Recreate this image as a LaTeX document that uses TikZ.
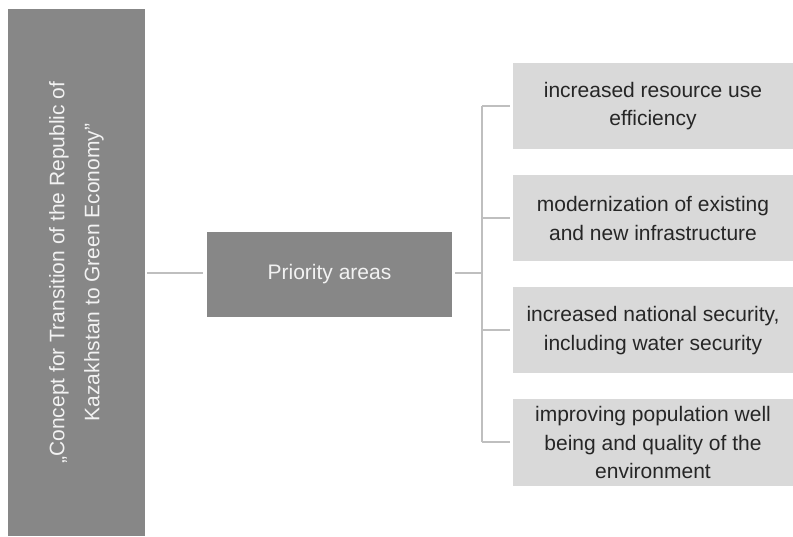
\documentclass[tikz,border=0pt]{standalone}
\usepackage{fontspec}
\setmainfont{Liberation Sans}
\usepackage{xcolor}
\usepackage{tikz}
\usetikzlibrary{positioning,calc}
\definecolor{boxdark}{RGB}{135,135,135}
\definecolor{boxlight}{RGB}{217,217,217}
\definecolor{linegray}{RGB}{191,191,191}
\definecolor{textdark}{RGB}{38,38,38}
\definecolor{textlight}{RGB}{242,242,242}

\tikzset{
  darkbox/.style={fill=boxdark, text=textlight, inner sep=0pt, align=center,
                  font=\fontsize{21}{28}\selectfont},
  areabox/.style={fill=boxlight, text=textdark, inner sep=0pt, align=center,
                  minimum width=280pt, minimum height=86pt,
                  font=\fontsize{21}{28.5}\selectfont},
  link/.style={draw=linegray, line width=2pt}
}

\begin{document}
\begin{tikzpicture}[x=1pt, y=1pt]
  \useasboundingbox (0,0) rectangle (793,536);

  % main concept, turned on its side
  \node[darkbox, rotate=90, minimum width=527pt, minimum height=137pt,
        font=\fontsize{21}{35}\selectfont]
    (concept) at (76.5,263.5)
    {„Concept for Transition of the Republic of\\Kazakhstan to Green Economy”};

  \node[darkbox, minimum width=245pt, minimum height=85pt]
    (priority) at (329.5,261.5) {Priority areas};

  % the four areas
  \node[areabox] (efficiency) at (653,430) {increased resource use\\efficiency};
  \node[areabox] (infra) at (653,317.5) {modernization of existing\\and new infrastructure};
  \node[areabox] (security) at (653,205.5) {increased national security,\\including water security};
  \node[areabox] (wellbeing) at (653,93.5) {improving population well\\being and quality of the\\environment};

  \coordinate (trunk) at (482,263);

  \draw[link, shorten <=2pt, shorten >=4pt] (concept.south |- trunk) -- (priority.west |- trunk);
  \draw[link, shorten <=3pt] (priority.east |- trunk) -- (trunk);
  \draw[link] (trunk |- efficiency) -- (trunk |- wellbeing);
  \foreach \area in {efficiency,infra,security,wellbeing}
    \draw[link, shorten >=3pt] (trunk |- \area) -- (\area.west);
\end{tikzpicture}
\end{document}
